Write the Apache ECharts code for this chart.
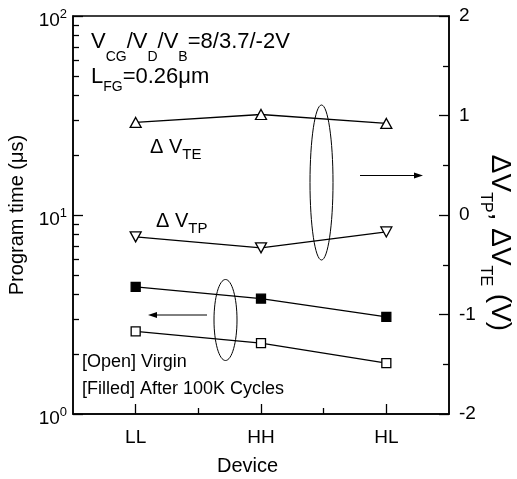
<!DOCTYPE html>
<html>
<head>
<meta charset="utf-8">
<title>Program time</title>
<script src="https://cdn.jsdelivr.net/npm/echarts@6/dist/echarts.min.js"></script>
<style>html,body{margin:0;padding:0;background:#fff}</style>
</head>
<body>
<div id="main" style="width:517px;height:479px"></div>
<script type="text/javascript">
// categories on the x axis
var devices = ['LL', 'HH', 'HL'];
var deviceX = [1, 2, 3];
var deviceMinorX = [1.5, 2.5];
// right axis: threshold shift (V)
var dVTE = [0.93, 1.01, 0.92];
var dVTP = [-0.22, -0.33, -0.17];
// left axis: program time (us)
var timeCycled = [4.35, 3.8, 3.08];
var timeVirgin = [2.6, 2.27, 1.8];
// ticks
var leftMinor = [2, 3, 4, 5, 6, 7, 8, 9, 20, 30, 40, 50, 60, 70, 80, 90];
var rightTicks = [-2, -1, 0, 1, 2];
var rightMinor = [-1.5, -0.5, 0.5, 1.5];

var FONT = 'Liberation Sans, Arial, sans-serif';

function pairs(ys) {
    return deviceX.map(function (x, i) { return [x, ys[i]]; });
}

// main text + subscript, subscript pushed down by "drop"
function subRich(main, sub, mainLH, drop) {
    return {
        m: { fontSize: main, lineHeight: mainLH, verticalAlign: 'top', fill: '#000', fontFamily: FONT },
        s: { fontSize: sub, lineHeight: sub, verticalAlign: 'top', padding: [drop, 0, 0, 0], fill: '#000', fontFamily: FONT }
    };
}

var myChart = echarts.init(document.getElementById('main'));

var lineSeries = function (name, data, yIdx, symbol, rotate, filled, size) {
    return {
        name: name,
        type: 'line',
        xAxisIndex: 0,
        yAxisIndex: yIdx,
        data: data,
        symbol: symbol,
        symbolRotate: rotate,
        symbolSize: size,
        z: 5,
        lineStyle: { color: '#000', width: 1.3 },
        itemStyle: { color: filled ? '#000' : '#fff', borderColor: '#000', borderWidth: 1.3 },
        emphasis: { disabled: true },
        animation: false
    };
};

var option = {
    animation: false,
    textStyle: { fontFamily: FONT, color: '#000' },
    grid: {
        left: 73, right: 68, top: 16, bottom: 65,
        show: true, borderColor: '#000', borderWidth: 1.5,
        containLabel: false, outerBoundsMode: 'none'
    },
    xAxis: [{
        type: 'value', min: 0.5, max: 3.5, interval: 0.5, position: 'bottom',
        axisLine: { onZero: false, lineStyle: { color: '#000', width: 1.5 } },
        axisTick: { inside: true, length: 10, customValues: deviceX, lineStyle: { color: '#000', width: 1.3 } },
        axisLabel: {
            customValues: deviceX, margin: 14, fontSize: 19, color: '#000',
            formatter: function (v) { return devices[Math.round(v) - 1] || ''; }
        },
        splitLine: { show: false },
        name: 'Device', nameLocation: 'middle', nameGap: 42,
        nameTextStyle: { fontSize: 20, color: '#000', padding: [0, 27, 0, 0] }
    }, {
        type: 'value', min: 0.5, max: 3.5, interval: 0.5, position: 'bottom',
        axisLine: { show: false, onZero: false },
        axisTick: { inside: true, length: 6, customValues: deviceMinorX, lineStyle: { color: '#000', width: 1.3 } },
        axisLabel: { show: false },
        splitLine: { show: false }
    }],
    yAxis: [{
        type: 'log', logBase: 10, min: 1, max: 100, position: 'left',
        axisLine: { onZero: false, lineStyle: { color: '#000', width: 1.5 } },
        axisTick: { inside: true, length: 10, lineStyle: { color: '#000', width: 1.3 } },
        axisLabel: {
            margin: 6, color: '#000', padding: [6, 0, 0, 0],
            formatter: function (v) { return '{b|10}{e|' + Math.round(Math.log10(v)) + '}'; },
            rich: {
                b: { fontSize: 19, lineHeight: 22, verticalAlign: 'bottom', color: '#000', fontFamily: FONT },
                e: { fontSize: 13, lineHeight: 12, verticalAlign: 'top', color: '#000', fontFamily: FONT }
            }
        },
        splitLine: { show: false },
        minorTick: { show: false },
        name: 'Program time (\u03bcs)', nameLocation: 'middle', nameGap: 40, nameRotate: 90,
        nameTextStyle: { fontSize: 20, color: '#000' }
    }, {
        type: 'value', min: -2, max: 2, interval: 1, position: 'right',
        axisLine: { onZero: false, lineStyle: { color: '#000', width: 1.5 } },
        axisTick: { inside: true, length: 10, customValues: rightTicks, lineStyle: { color: '#000', width: 1.3 } },
        axisLabel: { customValues: rightTicks, margin: 10, fontSize: 19, color: '#000' },
        splitLine: { show: false }
    }, {
        type: 'value', min: 0, max: 2, interval: 1, position: 'left',
        axisLine: { show: false, onZero: false },
        axisTick: { inside: true, length: 6, customValues: leftMinor.map(function (v) { return Math.log10(v); }), lineStyle: { color: '#000', width: 1.3 } },
        axisLabel: { show: false },
        splitLine: { show: false }
    }, {
        type: 'value', min: -2, max: 2, interval: 1, position: 'right',
        axisLine: { show: false, onZero: false },
        axisTick: { inside: true, length: 6, customValues: rightMinor, lineStyle: { color: '#000', width: 1.3 } },
        axisLabel: { show: false },
        splitLine: { show: false }
    }],
    series: [
        lineSeries('dVTE', pairs(dVTE), 1, 'triangle', 0, false, [11, 10]),
        lineSeries('dVTP', pairs(dVTP), 1, 'triangle', 180, false, [11, 10]),
        lineSeries('cycled', pairs(timeCycled), 0, 'rect', 0, true, 9),
        lineSeries('virgin', pairs(timeVirgin), 0, 'rect', 0, false, 9)
    ],
    graphic: [
        // condition text
        {
            type: 'text', x: 91, y: 31, silent: true,
            style: { text: '{m|V}{s|CG}{m|/V}{s|D}{m|/V}{s|B}{m|=8/3.7/-2V}', rich: subRich(22, 14, 26, 19) }
        },
        {
            type: 'text', x: 91, y: 66, silent: true,
            style: { text: '{m|L}{s|FG}{m|=0.26\u03bcm}', rich: subRich(22, 14, 26, 14) }
        },
        {
            type: 'text', x: 150, y: 137, silent: true,
            style: { text: '{m|\u0394 V}{s|TE}', rich: subRich(20, 15, 24, 10) }
        },
        {
            type: 'text', x: 156, y: 211, silent: true,
            style: { text: '{m|\u0394 V}{s|TP}', rich: subRich(20, 15, 24, 10) }
        },
        // right axis title
        {
            type: 'text', x: 498, y: 243, rotation: -Math.PI / 2, silent: true,
            style: {
                text: '{m|\u0394V}{s|TP}{m|, \u0394V}{s|TE}{m| (V)}',
                align: 'center', verticalAlign: 'middle',
                rich: subRich(28, 16, 32, 21)
            }
        },
        // legend notes
        {
            type: 'text', x: 82, y: 362, silent: true,
            style: { text: '[Open] Virgin', fontSize: 18, fontFamily: FONT, fill: '#000', verticalAlign: 'middle' }
        },
        {
            type: 'text', x: 82, y: 389, silent: true,
            style: { text: '[Filled] After 100K Cycles', fontSize: 18, fontFamily: FONT, fill: '#000', verticalAlign: 'middle' }
        },
        // ellipses grouping the curves
        {
            type: 'ellipse', silent: true, z: 10,
            shape: { cx: 321.5, cy: 182.5, rx: 11.5, ry: 77.5 },
            style: { fill: 'none', stroke: '#000', lineWidth: 1 }
        },
        {
            type: 'ellipse', silent: true, z: 10,
            shape: { cx: 225.5, cy: 320, rx: 11.5, ry: 40.5 },
            style: { fill: 'none', stroke: '#000', lineWidth: 1 }
        },
        // arrows pointing to the axes
        {
            type: 'line', silent: true,
            shape: { x1: 360, y1: 175.5, x2: 416, y2: 175.5 },
            style: { stroke: '#000', lineWidth: 1 }
        },
        {
            type: 'polygon', silent: true,
            shape: { points: [[423, 175.5], [414, 172.5], [414, 178.5]] },
            style: { fill: '#000' }
        },
        {
            type: 'line', silent: true,
            shape: { x1: 207, y1: 315, x2: 155, y2: 315 },
            style: { stroke: '#000', lineWidth: 1 }
        },
        {
            type: 'polygon', silent: true,
            shape: { points: [[148, 315], [157, 312], [157, 318]] },
            style: { fill: '#000' }
        }
    ]
};

myChart.setOption(option);
</script>
</body>
</html>
